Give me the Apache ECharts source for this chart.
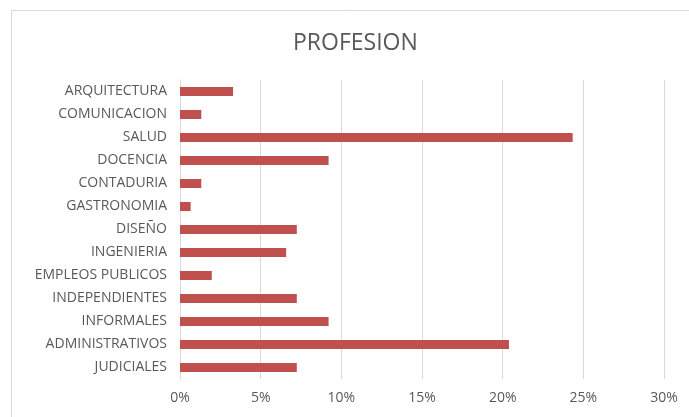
<!DOCTYPE html>
<html>
<head>
<meta charset="utf-8">
<script src="https://cdn.jsdelivr.net/npm/echarts@6/dist/echarts.min.js"></script>
<style>html,body{margin:0;padding:0;background:#fff}#c{width:689px;height:417px}</style>
</head>
<body>
<div id="c"></div>
<script>
const titleText = 'PROFESION';
const categories = ['ARQUITECTURA','COMUNICACION','SALUD','DOCENCIA','CONTADURIA','GASTRONOMIA','DISEÑO','INGENIERIA','EMPLEOS PUBLICOS','INDEPENDIENTES','INFORMALES','ADMINISTRATIVOS','JUDICIALES'];
const values = [3.29, 1.32, 24.34, 9.21, 1.32, 0.66, 7.24, 6.58, 1.97, 7.24, 9.21, 20.39, 7.24];
const xTicks = {min: 0, max: 30, interval: 5};

const chart = echarts.init(document.getElementById('c'), null, {renderer: 'canvas'});
const font = '"Open Sans", Lato, sans-serif';
chart.setOption({
  animation: false,
  backgroundColor: '#fff',
  graphic: [{
    type: 'rect', shape: {x: 11.5, y: 10.5, width: 700, height: 430},
    style: {fill: 'none', stroke: '#d9d9d9', lineWidth: 1}, silent: true
  }],
  title: {
    text: titleText, left: 288, top: 27,
    textStyle: {fontFamily: font, fontSize: 23, fontWeight: 'normal', color: '#595959'}
  },
  grid: {left: 180, right: 25, top: 80, bottom: 38, containLabel: false},
  xAxis: {
    type: 'value', min: xTicks.min, max: xTicks.max, interval: xTicks.interval,
    axisLine: {show: false}, axisTick: {show: false},
    splitLine: {lineStyle: {color: '#d9d9d9', width: 1}},
    axisLabel: {formatter: v => v + '%', color: '#595959', fontSize: 14, fontFamily: font, margin: 12}
  },
  yAxis: {
    type: 'category', data: categories, inverse: true,
    axisLine: {show: true, lineStyle: {color: '#d9d9d9'}}, axisTick: {show: false},
    axisLabel: {color: '#595959', fontSize: 14, fontFamily: font, margin: 13, padding: [2, 0, 0, 0]}
  },
  series: [{
    type: 'bar', data: values, barWidth: 9,
    itemStyle: {color: '#c0504d'}
  }]
});
</script>
</body>
</html>
